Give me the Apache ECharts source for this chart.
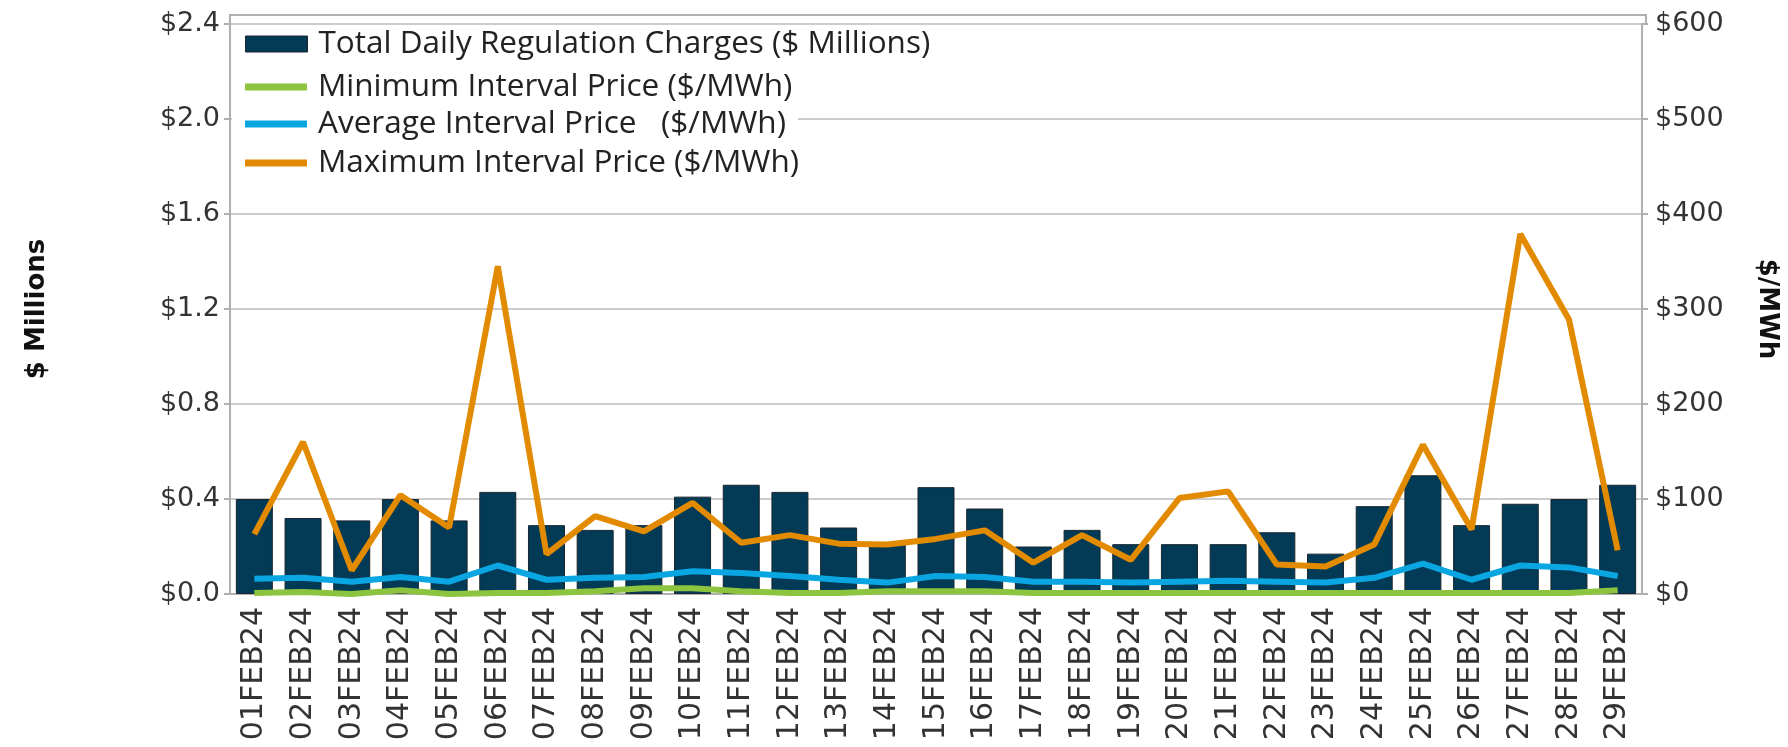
<!DOCTYPE html>
<html>
<head>
<meta charset="utf-8">
<script src="https://cdn.jsdelivr.net/npm/echarts@6/dist/echarts.min.js"></script>
<style>
  html, body { margin: 0; padding: 0; background: #ffffff; }
  #chart { width: 1788px; height: 747px; }
</style>
</head>
<body>
<div id="chart"></div>
<script>
// February 2024 daily regulation charges and interval prices
const days = ['01FEB24','02FEB24','03FEB24','04FEB24','05FEB24','06FEB24','07FEB24','08FEB24','09FEB24','10FEB24',
              '11FEB24','12FEB24','13FEB24','14FEB24','15FEB24','16FEB24','17FEB24','18FEB24','19FEB24','20FEB24',
              '21FEB24','22FEB24','23FEB24','24FEB24','25FEB24','26FEB24','27FEB24','28FEB24','29FEB24'];

// Total daily regulation charges, $ millions
const totalCharges = [0.40, 0.32, 0.31, 0.40, 0.31, 0.43, 0.29, 0.27, 0.29, 0.41,
                      0.46, 0.43, 0.28, 0.21, 0.45, 0.36, 0.20, 0.27, 0.21, 0.21,
                      0.21, 0.26, 0.17, 0.37, 0.50, 0.29, 0.38, 0.40, 0.46];

// Interval prices, $/MWh
const minPrice = [1, 2, 0, 4, 0, 1, 1, 3, 6, 6,
                  3, 1, 1, 3, 3, 3, 1, 1, 1, 1,
                  1, 1, 1, 1, 1, 1, 1, 1, 4];
const avgPrice = [16, 17, 13, 18, 13, 30, 15, 17, 18, 24,
                  22, 19, 15, 12, 19, 18, 13, 13, 12, 13,
                  14, 13, 12, 17, 32, 15, 30, 28, 19];
const maxPrice = [63, 160, 25, 104, 70, 345, 42, 82, 66, 96,
                  54, 62, 53, 52, 58, 67, 33, 62, 36, 101,
                  108, 31, 29, 52, 157, 68, 379, 289, 46];

const names = ['Total Daily Regulation Charges ($ Millions)',
               'Minimum Interval Price ($/MWh)',
               'Average Interval Price   ($/MWh)',
               'Maximum Interval Price ($/MWh)'];

const W = 1788, H = 747;
const gridL = 230, gridR = 1646, gridT = 24, gridB = 594, frameTop = 15;

const cBar = '#033a55', cMin = '#8cc43f', cAvg = '#0aa6e2', cMax = '#e38b00';
const axisGray = '#b0b0b0', gridGray = '#cccccc', tickText = '#333333';
const tickFont = 'DejaVu Sans', legendFont = 'Open Sans';

const legendRowCenters = [44, 87, 124, 163];

function legendFor(i, color, isBar) {
  return {
    data: [names[i]],
    left: gridL + 2,
    top: legendRowCenters[i] - 18,
    orient: 'vertical',
    backgroundColor: '#ffffff',
    padding: [2, 12, 2, 13],
    itemWidth: 62,
    itemHeight: isBar ? 16 : 7,
    icon: 'rect',
    itemStyle: isBar ? { color: color, borderColor: '#1a2730', borderWidth: 1 } : { color: color },
    textStyle: { fontFamily: legendFont, fontSize: 31.5, color: '#222222', lineHeight: 32, padding: [0, 0, 0, 6] },
    selectedMode: false
  };
}

const chart = echarts.init(document.getElementById('chart'), null, { renderer: 'canvas' });
chart.setOption({
  animation: false,
  backgroundColor: '#ffffff',
  grid: { left: gridL, right: W - gridR, top: gridT, bottom: H - gridB, containLabel: false },
  legend: [
    legendFor(0, cBar, true),
    legendFor(1, cMin, false),
    legendFor(2, cAvg, false),
    legendFor(3, cMax, false)
  ],
  xAxis: {
    type: 'category',
    data: days,
    boundaryGap: true,
    axisLine: { show: true, lineStyle: { color: axisGray, width: 2 } },
    axisTick: { show: false },
    axisLabel: { rotate: 90, interval: 0, margin: 13, fontFamily: tickFont, fontSize: 30, color: tickText }
  },
  yAxis: [
    {
      type: 'value', min: 0, max: 2.4, interval: 0.4,
      name: '$ Millions', nameLocation: 'middle', nameGap: 180, nameRotate: 90,
      nameTextStyle: { fontFamily: tickFont, fontWeight: 'bold', fontSize: 26, color: '#111111' },
      axisLine: { show: true, lineStyle: { color: axisGray, width: 2 } },
      axisTick: { show: true, length: 6, lineStyle: { color: axisGray, width: 2 } },
      axisLabel: { margin: 10, fontFamily: tickFont, fontSize: 27, color: tickText,
                   formatter: v => '$' + v.toFixed(1) },
      splitLine: { show: true, lineStyle: { color: gridGray, width: 2 } }
    },
    {
      type: 'value', min: 0, max: 600, interval: 100, position: 'right',
      name: '$/MWh', nameLocation: 'middle', nameGap: 112, nameRotate: -90,
      nameTextStyle: { fontFamily: tickFont, fontWeight: 'bold', fontSize: 26, color: '#111111' },
      axisLine: { show: true, lineStyle: { color: axisGray, width: 2 } },
      axisTick: { show: true, length: 6, lineStyle: { color: axisGray, width: 2 } },
      axisLabel: { margin: 13, fontFamily: tickFont, fontSize: 27, color: tickText,
                   formatter: v => '$' + v },
      splitLine: { show: false }
    }
  ],
  graphic: [
    {
      type: 'polyline', silent: true, z: 1,
      shape: { points: [[gridL, gridT], [gridL, frameTop], [gridR, frameTop], [gridR, gridT]] },
      style: { stroke: axisGray, lineWidth: 2, fill: null }
    }
  ],
  series: [
    {
      name: names[0], type: 'bar', yAxisIndex: 0, data: totalCharges,
      barCategoryGap: '24%',
      itemStyle: { color: cBar, borderColor: '#1a2730', borderWidth: 1 }
    },
    {
      name: names[1], type: 'line', yAxisIndex: 1, data: minPrice,
      symbol: 'none', lineStyle: { color: cMin, width: 6 }, itemStyle: { color: cMin }
    },
    {
      name: names[2], type: 'line', yAxisIndex: 1, data: avgPrice,
      symbol: 'none', lineStyle: { color: cAvg, width: 6 }, itemStyle: { color: cAvg }
    },
    {
      name: names[3], type: 'line', yAxisIndex: 1, data: maxPrice,
      symbol: 'none', lineStyle: { color: cMax, width: 6 }, itemStyle: { color: cMax }
    }
  ]
});
</script>
</body>
</html>
